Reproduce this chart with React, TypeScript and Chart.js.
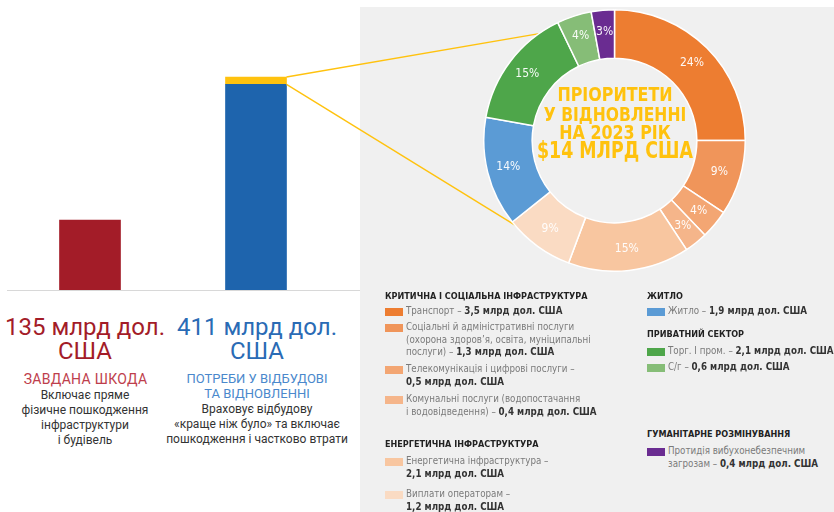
import React, { useEffect, useRef } from "react";
import { Chart, registerables } from "chart.js";
Chart.register(...registerables);

// ---- Data ----
const barCategories = ["Завдана шкода", "Потреби у відбудові та відновленні"];
const damageValues = [135, null];
const needsBaseValues = [null, 397];
const needsPriorityValues = [null, 14];

const sectorLabels = [
  "Транспорт",
  "Соціальні й адміністративні послуги",
  "Телекомунікація і цифрові послуги",
  "Комунальні послуги",
  "Енергетична інфраструктура",
  "Виплати операторам",
  "Житло",
  "Торг. І пром.",
  "С/г",
  "Протидія вибухонебезпечним загрозам",
];
const sectorValues = [3.5, 1.3, 0.5, 0.4, 2.1, 1.2, 1.9, 2.1, 0.6, 0.4];
const sectorPercentLabels = ["24%", "9%", "4%", "3%", "15%", "9%", "14%", "15%", "4%", "3%"];
const sectorColors = [
  "#ED7D31",
  "#F0955A",
  "#F3A673",
  "#F5B58A",
  "#F8C6A0",
  "#FADBC3",
  "#5B9BD5",
  "#4EA64A",
  "#86BD77",
  "#6A2C91",
];

const COND = '"DejaVu Sans Condensed", "Liberation Sans Narrow", Roboto, sans-serif';
const YELLOW = "#FFC20E";

// donut geometry (used for connector end points)
const DONUT_LEFT = 483;
const DONUT_TOP = 9;
const DONUT_SIZE = 263;
const DONUT_CX = DONUT_LEFT + DONUT_SIZE / 2;
const DONUT_CY = DONUT_TOP + DONUT_SIZE / 2;
const CONNECT_ANGLES = [326, 228]; // degrees clockwise from top

function BarChart() {
  const ref = useRef<HTMLCanvasElement>(null);
  useEffect(() => {
    const connector = {
      id: "connector",
      afterDatasetsDraw(chart: any) {
        const el = chart.getDatasetMeta(2).data[1] as any;
        const baseEl = chart.getDatasetMeta(1).data[1] as any;
        if (!el) return;
        const x = el.x + el.width / 2;
        const ctx = chart.ctx;
        ctx.save();
        ctx.strokeStyle = YELLOW;
        ctx.lineWidth = 1.4;
        const r = DONUT_SIZE / 2 - 2;
        const starts = [el.y, baseEl.y];
        CONNECT_ANGLES.forEach((a, i) => {
          const rad = (a * Math.PI) / 180;
          const ex = DONUT_CX + r * Math.sin(rad);
          const ey = DONUT_CY - r * Math.cos(rad);
          ctx.beginPath();
          ctx.moveTo(x, starts[i]);
          ctx.lineTo(ex, ey);
          ctx.stroke();
        });
        ctx.restore();
      },
    };
    const chart = new Chart(ref.current!, {
      type: "bar",
      data: {
        labels: barCategories,
        datasets: [
          { data: damageValues as any, backgroundColor: "#A31C28", barThickness: 61 },
          { data: needsBaseValues as any, backgroundColor: "#1E64AD", barThickness: 61 },
          { data: needsPriorityValues as any, backgroundColor: YELLOW, barThickness: 61 },
        ],
      },
      options: {
        animation: false,
        responsive: false,
        maintainAspectRatio: false,
        layout: { padding: { left: 7, right: 495, top: 62, bottom: 10 } },
        plugins: { legend: { display: false }, tooltip: { enabled: false } },
        scales: {
          x: { display: false, stacked: true },
          y: { display: false, stacked: true, min: 0, max: 440 },
        },
      },
      plugins: [connector],
    });
    return () => chart.destroy();
  }, []);
  return (
    <canvas
      ref={ref}
      width={834}
      height={300}
      style={{ position: "absolute", left: 0, top: 0, width: 834, height: 300 }}
    />
  );
}

function DonutChart() {
  const ref = useRef<HTMLCanvasElement>(null);
  useEffect(() => {
    const labelsPlugin = {
      id: "pctLabels",
      afterDatasetsDraw(chart: any) {
        const ctx = chart.ctx;
        const meta = chart.getDatasetMeta(0);
        ctx.save();
        ctx.font = "12px " + COND;
        ctx.fillStyle = "rgba(255,255,255,0.95)";
        ctx.textAlign = "center";
        ctx.textBaseline = "middle";
        meta.data.forEach((arc: any, i: number) => {
          const mid = (arc.startAngle + arc.endAngle) / 2;
          const rr = (arc.innerRadius + arc.outerRadius) / 2 + 3;
          const x = arc.x + Math.cos(mid) * rr;
          const y = arc.y + Math.sin(mid) * rr;
          ctx.fillText(sectorPercentLabels[i], x, y);
        });
        ctx.restore();
      },
    };
    const chart = new Chart(ref.current!, {
      type: "doughnut",
      data: {
        labels: sectorLabels,
        datasets: [
          {
            data: sectorValues,
            backgroundColor: sectorColors,
            borderColor: "#FFFFFF",
            borderWidth: 1.5,
          },
        ],
      },
      options: {
        animation: false,
        responsive: false,
        maintainAspectRatio: false,
        cutout: "63%",
        rotation: 0,
        layout: { padding: 0 },
        plugins: { legend: { display: false }, tooltip: { enabled: false } },
      },
      plugins: [labelsPlugin],
    });
    return () => chart.destroy();
  }, []);
  return (
    <canvas
      ref={ref}
      width={DONUT_SIZE}
      height={DONUT_SIZE}
      style={{ position: "absolute", left: DONUT_LEFT, top: DONUT_TOP, width: DONUT_SIZE, height: DONUT_SIZE }}
    />
  );
}

const abs = (left: number, top: number, extra: any = {}) => ({
  position: "absolute" as const,
  left,
  top,
  whiteSpace: "nowrap" as const,
  ...extra,
});

function CenterLine({ y, text, size, sx }: { y: number; text: string; size: number; sx: number }) {
  return (
    <div
      style={abs(DONUT_CX - 100, y - size * 0.62, {
        width: 200,
        textAlign: "center",
        fontFamily: COND,
        fontWeight: 700,
        fontSize: size,
        lineHeight: size * 1.2 + "px",
        color: YELLOW,
        transform: `scaleX(${sx})`,
      })}
    >
      {text}
    </div>
  );
}

function TextBlock({ cx, y, lines, size, color, lh, weight = 400, family = "Roboto, sans-serif", ls = 0 }: any) {
  return (
    <div
      style={abs(cx - 150, y, {
        width: 300,
        textAlign: "center",
        fontFamily: family,
        fontSize: size,
        lineHeight: lh + "px",
        color,
        fontWeight: weight,
        letterSpacing: ls,
      })}
    >
      {lines.map((l: string, i: number) => (
        <div key={i}>{l}</div>
      ))}
    </div>
  );
}

function Header({ x, y, text }: { x: number; y: number; text: string }) {
  return (
    <div style={abs(x, y - 6, { fontFamily: COND, fontWeight: 700, fontSize: 9, lineHeight: "12px", color: "#222" })}>
      {text}
    </div>
  );
}

function Item({ x, y, idx, lines }: { x: number; y: number; idx: number; lines: any[] }) {
  return (
    <>
      <div style={abs(x, y - 4, { width: 18, height: 8, background: sectorColors[idx] })} />
      <div
        style={abs(x + 21, y - 7, {
          fontFamily: COND,
          fontSize: 10,
          lineHeight: "12.5px",
          color: "#7A7A7A",
          transform: "scaleX(0.97)",
          transformOrigin: "left center",
        })}
      >
        {lines.map((l: any, i: number) => (
          <div key={i}>
            {l[0]}
            {l[1] ? <b style={{ color: "#333" }}>{l[1]}</b> : null}
          </div>
        ))}
      </div>
    </>
  );
}

export default function App() {
  return (
    <div
      style={{
        position: "absolute",
        left: 0,
        top: 0,
        width: 834,
        height: 512,
        overflow: "hidden",
        background: "#FFFFFF",
      }}
    >
      <div style={{ position: "absolute", left: 360, top: 7, width: 474, height: 505, background: "#F0F0F0" }} />
      <div style={{ position: "absolute", left: 7, top: 290, width: 353, height: 1, background: "#D8D8D8" }} />
      <BarChart />
      <DonutChart />
      <CenterLine y={95} text="ПРІОРИТЕТИ" size={19} sx={0.93} />
      <CenterLine y={114.5} text="У ВІДНОВЛЕННІ" size={19} sx={0.91} />
      <CenterLine y={133} text="НА 2023 РІК" size={19} sx={0.93} />
      <CenterLine y={151} text="$14 МЛРД США" size={23} sx={0.84} />

      <TextBlock cx={85} y={315} lines={["135 млрд дол.", "США"]} size={24} lh={24} color="#A31C28" />
      <TextBlock cx={257} y={315} lines={["411 млрд дол.", "США"]} size={24} lh={24} color="#2A6BB5" />
      <TextBlock cx={85.5} y={371} lines={["ЗАВДАНА ШКОДА"]} size={14} lh={16} color="#BE3E4C" ls={0.3} />
      <TextBlock cx={257} y={371} lines={["ПОТРЕБИ У ВІДБУДОВІ", "ТА ВІДНОВЛЕННІ"]} size={13} lh={15} color="#4A88CC" />
      <TextBlock
        cx={85}
        y={388}
        lines={["Включає пряме", "фізичне пошкодження", "інфраструктури", "і будівель"]}
        size={12}
        lh={15}
        color="#333"
      />
      <TextBlock
        cx={257}
        y={402}
        lines={["Враховує відбудову", "«краще ніж було» та включає", "пошкодження і частково втрати"]}
        size={12}
        lh={15}
        color="#333"
      />

      <Header x={385} y={296} text="КРИТИЧНА І СОЦІАЛЬНА ІНФРАСТРУКТУРА" />
      <Item x={385} y={312} idx={0} lines={[["Транспорт – ", "3,5 млрд дол. США"]]} />
      <Item
        x={385}
        y={328}
        idx={1}
        lines={[
          ["Соціальні й адміністративні послуги"],
          ["(охорона здоров’я, освіта, муніципальні"],
          ["послуги) – ", "1,3 млрд дол. США"],
        ]}
      />
      <Item x={385} y={370} idx={2} lines={[["Телекомунікація і цифрові послуги –"], ["", "0,5 млрд дол. США"]]} />
      <Item
        x={385}
        y={400}
        idx={3}
        lines={[["Комунальні послуги (водопостачання"], ["і водовідведення) – ", "0,4 млрд дол. США"]]}
      />
      <Header x={385} y={444} text="ЕНЕРГЕТИЧНА ІНФРАСТРУКТУРА" />
      <Item x={385} y={462} idx={4} lines={[["Енергетична інфраструктура –"], ["", "2,1 млрд дол. США"]]} />
      <Item x={385} y={495} idx={5} lines={[["Виплати операторам –"], ["", "1,2 млрд дол. США"]]} />

      <Header x={647} y={296} text="ЖИТЛО" />
      <Item x={647} y={312} idx={6} lines={[["Житло – ", "1,9 млрд дол. США"]]} />
      <Header x={647} y={334} text="ПРИВАТНИЙ СЕКТОР" />
      <Item x={647} y={352} idx={7} lines={[["Торг. І пром. – ", "2,1 млрд дол. США"]]} />
      <Item x={647} y={368} idx={8} lines={[["С/г – ", "0,6 млрд дол. США"]]} />
      <Header x={647} y={434} text="ГУМАНІТАРНЕ РОЗМІНУВАННЯ" />
      <Item
        x={647}
        y={452}
        idx={9}
        lines={[["Протидія вибухонебезпечним"], ["загрозам – ", "0,4 млрд дол. США"]]}
      />
    </div>
  );
}
